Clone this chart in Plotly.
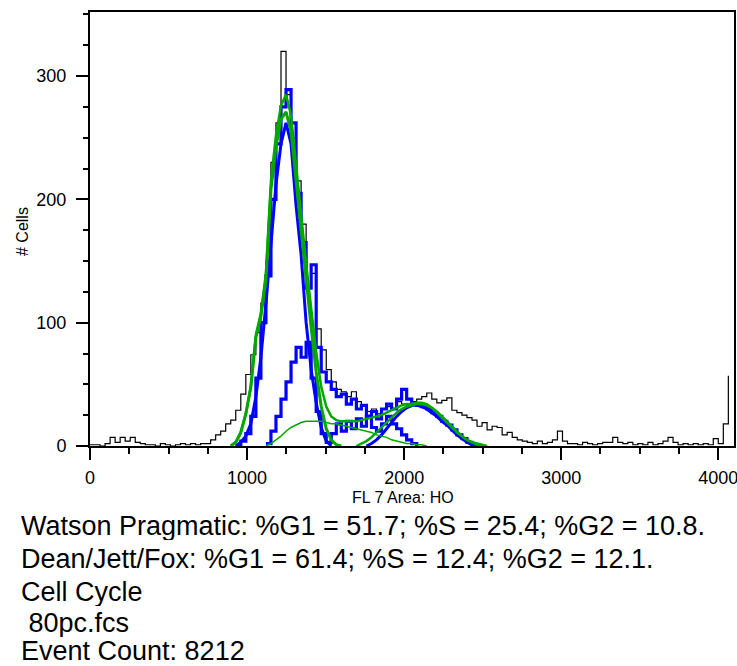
import plotly.graph_objects as go

# ---------------- data ----------------
# channel bins of the measured histogram (32-channel bins)
data_x = list(range(0, 4096, 32))
data_counts = [
    1, 1, 0, 2, 7, 3, 7, 4, 7, 3,
    2, 1, 1, 0, 2, 1, 0, 1, 2, 1,
    2, 1, 2, 2, 5, 9, 12, 18, 21, 29,
    42, 58, 74, 92, 116, 150, 230, 262, 320, 285,
    250, 215, 180, 128, 140, 95, 78, 62, 52, 46,
    44, 40, 44, 36, 33, 28, 30, 26, 30, 32,
    30, 36, 34, 32, 36, 38, 40, 43, 38, 35,
    37, 39, 29, 27, 25, 23, 21, 16, 19, 13,
    16, 15, 9, 11, 7, 5, 4, 3, 2, 4,
    2, 3, 5, 12, 4, 2, 2, 1, 3, 2,
    1, 2, 3, 3, 7, 3, 2, 3, 1, 2,
    1, 3, 1, 2, 4, 7, 3, 1, 2, 1,
    2, 1, 2, 1, 6, 2, 18, 57,
]

# Watson Pragmatic model (blue)
watson_g1_x = list(range(928, 1537, 32))
watson_g1 = [0, 3, 8, 18, 40, 72, 115, 165, 212, 245,
             262, 245, 195, 155, 100, 62, 35, 15, 4, 0]

watson_total_x = list(range(928, 2465, 32))
watson_total = [0, 4, 10, 24, 55, 100, 138, 200, 245, 275,
                289, 262, 205, 165, 128, 147, 80, 60, 52, 46,
                40, 42, 34, 38, 30, 33, 24, 28, 22, 30,
                34, 30, 38, 46, 38, 34, 33, 32, 30, 27,
                24, 20, 17, 13, 9, 6, 3, 1, 0]

watson_s_x = list(range(1120, 2081, 32))
watson_s = [2, 12, 24, 38, 52, 68, 80, 72, 84, 55,
            28, 10, 3, 10, 18, 12, 20, 14, 22, 16,
            24, 15, 12, 18, 24, 18, 14, 9, 5, 2, 0]

watson_g2_x = list(range(1760, 2465, 32))
watson_g2 = [0, 2, 5, 9, 14, 19, 24, 28, 31, 33,
             33, 32, 30, 27, 24, 20, 17, 13, 9, 6, 3, 1, 0]

# Dean/Jett/Fox model (green)
djf_g1_x = list(range(896, 1601, 32))
djf_g1 = [0, 3, 11, 26, 48, 88, 105, 135, 208, 243,
          265, 271, 255, 215, 172, 132, 96, 60, 32, 14, 5, 1, 0]

djf_total_x = list(range(896, 2497, 32))
djf_total = [0, 3, 11, 26, 48, 90, 108, 140, 215, 252,
             276, 285, 268, 230, 188, 148, 112, 76, 48, 32,
             24, 21, 20, 20, 20, 20, 21, 22, 23, 24,
             25, 27, 29, 31, 33, 34, 34, 35, 35, 34,
             31, 27, 23, 19, 15, 11, 8, 5, 3, 1, 0]

djf_s_x = list(range(1120, 2145, 32))
djf_s = [0, 2, 5, 8, 12, 15, 17, 19, 20, 20,
         20, 20, 19, 18, 18, 17, 16, 15, 14, 13,
         12, 11, 9, 8, 7, 5, 4, 3, 2, 2, 1, 1, 0]

djf_g2_x = list(range(1696, 2529, 32))
djf_g2 = [0, 2, 4, 7, 11, 15, 19, 23, 27, 30,
          32, 33, 34, 34, 33, 31, 28, 24, 20, 16,
          12, 8, 5, 3, 2, 1, 0]

summary_lines = [
    "Watson Pragmatic: %G1 = 51.7; %S = 25.4; %G2 = 10.8.",
    "Dean/Jett/Fox: %G1 = 61.4; %S = 12.4; %G2 = 12.1.",
    "Cell Cycle",
    " 80pc.fcs",
    "Event Count: 8212",
]

# ---------------- figure ----------------
BLUE = "#0000FF"
GREEN = "#00A800"
FONT = "Liberation Sans, Arial, sans-serif"

W, H = 737, 666
PL, PR, PT, PB = 90, 734, 12, 446   # plot area in px


def px_x(px):
    return (px - PL) / (PR - PL)


def px_y(py):
    return (PB - py) / (PB - PT)


fig = go.Figure()

fig.add_trace(go.Scatter(x=data_x, y=data_counts, mode="lines",
                         line=dict(color="black", width=1.2, shape="hv")))

fig.add_trace(go.Scatter(x=watson_s_x, y=watson_s, mode="lines",
                         line=dict(color=BLUE, width=3.2, shape="hv")))
fig.add_trace(go.Scatter(x=watson_total_x, y=watson_total, mode="lines",
                         line=dict(color=BLUE, width=3.2, shape="hv")))
fig.add_trace(go.Scatter(x=watson_g1_x, y=watson_g1, mode="lines",
                         line=dict(color=BLUE, width=3)))
fig.add_trace(go.Scatter(x=watson_g2_x, y=watson_g2, mode="lines",
                         line=dict(color=BLUE, width=3)))

fig.add_trace(go.Scatter(x=djf_s_x, y=djf_s, mode="lines",
                         line=dict(color=GREEN, width=1.5)))
fig.add_trace(go.Scatter(x=djf_g1_x, y=djf_g1, mode="lines",
                         line=dict(color=GREEN, width=3)))
fig.add_trace(go.Scatter(x=djf_g2_x, y=djf_g2, mode="lines",
                         line=dict(color=GREEN, width=2.5)))
fig.add_trace(go.Scatter(x=djf_total_x, y=djf_total, mode="lines",
                         line=dict(color=GREEN, width=2.5)))

axis_common = dict(
    showline=True, linewidth=2, linecolor="black", mirror=True,
    showgrid=False, zeroline=False, ticks="outside", tickwidth=2,
    tickcolor="black", ticklen=12, ticklabeloverflow="allow",
    tickfont=dict(family=FONT, size=18, color="black"),
)

fig.update_xaxes(range=[0, 4100], tickmode="linear", tick0=0, dtick=1000,
                 ticklabelstandoff=2,
                 minor=dict(ticks="outside", dtick=250, ticklen=6,
                            tickwidth=2, tickcolor="black", showgrid=False),
                 **axis_common)
fig.update_yaxes(range=[0, 352], tickmode="linear", tick0=0, dtick=100,
                 ticklabelstandoff=6,
                 minor=dict(ticks="outside", dtick=25, ticklen=5,
                            tickwidth=2, tickcolor="black", showgrid=False),
                 **axis_common)

annotations = [
    dict(text="FL 7 Area: HO", x=px_x(403), y=px_y(498), xref="paper",
         yref="paper", showarrow=False, xanchor="center", yanchor="middle",
         font=dict(family=FONT, size=16, color="black")),
    dict(text="# Cells", x=px_x(22), y=px_y(232), xref="paper",
         yref="paper", showarrow=False, xanchor="center", yanchor="middle",
         textangle=-90, font=dict(family=FONT, size=16, color="black")),
]
line_centers = [526, 559, 592, 623, 651]
for txt, cy in zip(summary_lines, line_centers):
    annotations.append(dict(
        text=txt.replace(" ", "&nbsp;", 1) if txt.startswith(" ") else txt,
        x=px_x(20), y=px_y(cy), xref="paper", yref="paper",
        showarrow=False, xanchor="left", yanchor="middle",
        height=28, borderpad=0,
        font=dict(family=FONT, size=27, color="black")))

fig.update_layout(
    width=W, height=H,
    margin=dict(l=PL, r=W - PR, t=PT, b=H - PB, autoexpand=False),
    plot_bgcolor="white", paper_bgcolor="white",
    showlegend=False,
    annotations=annotations,
)

fig.write_html("out.html", config={"displayModeBar": False},
               post_script="document.body.style.margin='0';document.body.style.overflow='hidden';")
